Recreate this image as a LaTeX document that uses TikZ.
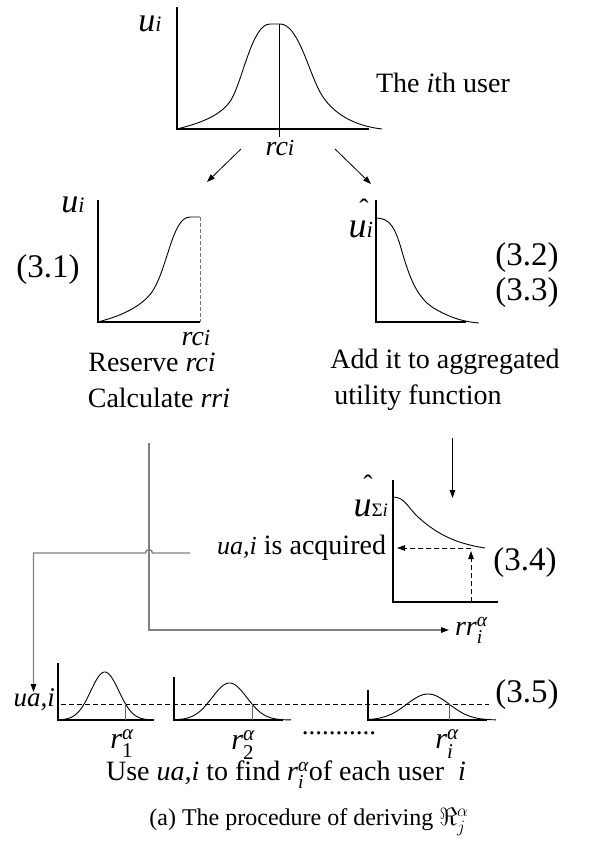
\documentclass[tikz,border=0pt]{standalone}
\usepackage{fontspec}
\usepackage{amsmath}
\setmainfont{Liberation Serif}
\usetikzlibrary{arrows.meta}
\newcommand\fz[1]{\fontsize{#1}{#1}\selectfont}
\newcommand\rsa[1]{$\textit{r}^{\text{\itshape α}}_{\text{#1}}$}
\begin{document}
\begin{tikzpicture}[x=1pt,y=-1pt,
  axis/.style={line width=2pt},
  crv/.style={line width=0.9pt},
  gline/.style={draw=black!50, line width=1.4pt},
  tip/.style={-{Triangle[length=8pt,width=5.5pt,color=black]}},
  txt/.style={inner sep=0pt, outer sep=0pt, font=\fz{28}},
  dsh/.style={dash pattern=on 5pt off 3pt, line width=0.8pt},
  tick/.style={draw=black!60, line width=0.6pt}]
\useasboundingbox (0,0) rectangle (597,846);

% ---------- top graph ----------
\draw[axis] (177,7) -- (177,129) -- (369,129);
\draw[crv] (177,129) .. controls (205,122) and (222,114) .. (231,100)
  .. controls (243,80) and (252,24) .. (270,24) -- (280,24)
  .. controls (298,24) and (308,70) .. (320,92)
  .. controls (332,114) and (355,126) .. (382,129);
\draw[crv] (279.5,24) -- (279.5,137);
\node[txt] (lu1) at (150,24) {\itshape\fz{34}u\fz{22}i};
\node[txt] (lrc) at (280,148) {\itshape\fz{28}rc\fz{23}i};
\node[txt] (luser) at (443,83) {The \textit{i}th user};

\coordinate (a1s) at (241,149); \coordinate (a1e) at (207,182);
\coordinate (a2s) at (335,149); \coordinate (a2e) at (371,184);
\draw[tip, line width=0.8pt] (a1s) -- (a1e);
\draw[tip, line width=0.8pt] (a2s) -- (a2e);

% ---------- (3.1) graph ----------
\draw[axis] (98,200) -- (98,322) -- (200,322);
\draw[crv] (98,322) .. controls (120,316) and (140,308) .. (152,292)
  .. controls (168,268) and (172,217) .. (190,217) -- (200,217);
\draw[dash pattern=on 4pt off 2pt, draw=black!55, line width=0.7pt] (200,217) -- (200,322);
\node[txt] (lu2) at (73,205) {\itshape\fz{34}u\fz{22}i};
\node[txt] (l31) at (48,270) {\fz{33}(3.1)};
\node[txt] (lrc2) at (196,338) {\itshape\fz{28}rc\fz{23}i};
\node[txt] (lres) at (152,362) {Reserve \textit{rci}};
\node[txt] (lcal) at (159,398) {Calculate \textit{rri}};

% ---------- (3.2) graph ----------
\draw[axis] (376,200) -- (376,322) -- (466,322);
\draw[crv] (376,218) .. controls (390,218) and (395,228) .. (401,248)
  .. controls (410,280) and (418,300) .. (437,310)
  .. controls (455,320) and (468,322) .. (479,323);
\node[txt, anchor=east] (lu3) at (373,218) {\itshape\fz{36}u\llap{\upshape\fz{28}\raisebox{19pt}{ˆ}\kern-2pt}\fz{23}i};
\node[txt] (l32) at (527,258) {\fz{33}(3.2)};
\node[txt] (l33) at (527,293) {\fz{33}(3.3)};
\node[txt] (ladd) at (445,362) {Add it to aggregated};
\node[txt] (lutil) at (418,398) {utility function};

% ---------- connectors ----------
\coordinate (v1t) at (149,443); \coordinate (v1b) at (149,630); \coordinate (rrE) at (449,630);
\draw[gline, tip] (v1t) -- (v1b) -- (rrE);
\node[txt, anchor=west] (lrr) at (455,630) {$\textit{rr}^{\text{\itshape α}}_{\text{\itshape i}}$};
\coordinate (hs) at (190,553); \coordinate (hl) at (33.5,553); \coordinate (hd) at (33.5,692);
\draw[gline, tip] (hs) -- (152.5,553) .. controls (152.5,548.5) and (145.5,548.5) .. (145.5,553) -- (hl) -- (hd);

\coordinate (dts) at (452.5,438); \coordinate (dte) at (452.5,498);
\draw[tip, line width=0.8pt] (dts) -- (dte);

% ---------- (3.4) graph ----------
\draw[axis] (393,480) -- (393,602) -- (498,602);
\draw[crv] (393,497) .. controls (405,497) and (408,508) .. (418,517)
  .. controls (440,537) and (460,544) .. (485,548);
\coordinate (p1) at (471,548); \coordinate (p2) at (397,548); \coordinate (p3) at (471,602); \coordinate (p4) at (471,551);
\draw[dsh, tip] (p1) -- (p2);
\draw[dsh, tip] (p3) -- (p4);
\node[txt, anchor=east] (lusig) at (388,496) {\itshape\fz{36}u\llap{\upshape\fz{28}\raisebox{22pt}{ˆ}\kern-1pt}{\upshape\fz{19}Σ}\fz{19}i};
\node[txt, anchor=east] (lacq) at (386,548) {\textit{\fz{26}ua,i} is acquired};
\node[txt] (l34) at (525,563) {\fz{33}(3.4)};

% ---------- bottom graphs ----------
\node[txt, anchor=east] (lua) at (55,700) {\itshape\fz{27}ua,i};
\draw[dsh] (61,704) -- (489,704);
% graph 1
\draw[axis] (58,663) -- (58,720) -- (154,720);
\draw[crv] plot[domain=58:154, samples=80, smooth] (\x, {720-48*exp(-(\x-104.8)*(\x-104.8)/392)});
\draw[tick] (125.5,704) -- (125.5,720);
\node[txt] (r1) at (122,744) {\fz{30}\rsa{1}};
% graph 2
\draw[axis] (174,677) -- (174,720) -- (283,720);
\draw[crv] plot[domain=174:291, samples=80, smooth] (\x, {720-37*exp(-(\x-229.5)*(\x-229.5)/605)});
\draw[tick] (252,704) -- (252,720);
\node[txt] (r2) at (243,745) {\fz{30}\rsa{2}};
\node[txt] (dots) at (339,733) {\fz{27}...........};
% graph 3
\draw[axis] (368,690) -- (368,720) -- (487,720);
\draw[crv] plot[domain=368:496, samples=80, smooth] (\x, {720-26*exp(-(\x-428)*(\x-428)/906)});
\draw[tick] (449,704) -- (449,720);
\node[txt] (ri) at (447,744) {\fz{30}\rsa{\itshape i}};
\node[txt] (l35) at (527,695) {\fz{33}(3.5)};

\node[txt] (luse) at (286,775) {Use \textit{ua,i} to find \rsa{\itshape i}of each user \ \textit{i}};
\node[txt] (cap) at (309,822) {\fz{24}(a) The procedure of deriving $\Re^{\alpha}_{j}$};
\end{tikzpicture}
\end{document}
